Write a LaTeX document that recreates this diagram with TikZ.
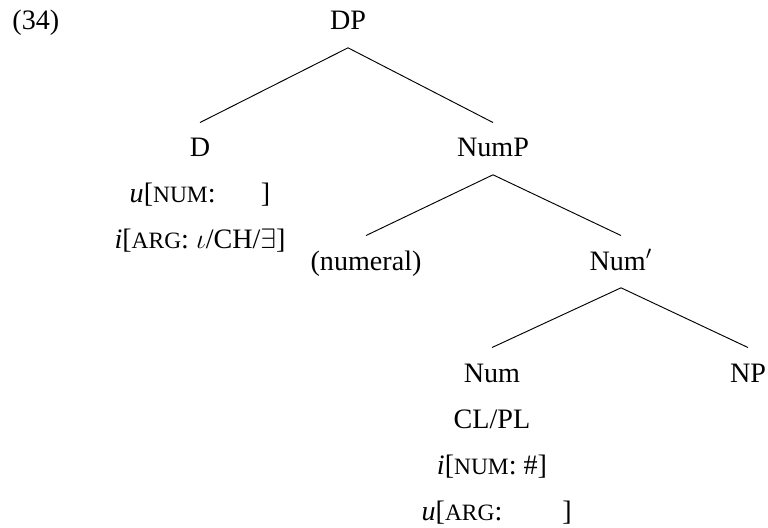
\documentclass[tikz,border=0pt]{standalone}
\usepackage{fontspec}
\setmainfont{Liberation Serif}
\usetikzlibrary{positioning}

\newcommand{\feat}[1]{{\fontsize{10}{11}\selectfont #1}}

\begin{document}
\begin{tikzpicture}[black, font=\fontsize{12}{14}\selectfont,
    cat/.style={anchor=base, inner sep=0pt, text height=0.51cm, text depth=0.26cm},
    featline/.style={anchor=base, inner sep=0pt}]
  \useasboundingbox (0,0) rectangle (11.52,7.905);
  \node[anchor=base west, inner sep=0pt] (ex) at (0.18,7.455) {(34)};
  \node[cat] (DP) at (5.22,7.455) {DP};
  \node[cat] (D) at (3.0,5.55) {D};
  \node[cat] (NumP) at (7.395,5.55) {NumP};
  \node[featline] (Dnum) at (3.0,4.86) {\textit{u}[\feat{NUM}:\hspace{0.68cm}]};
  \node[featline] (Darg) at (3.0,4.185) {\textit{i}[\feat{ARG}: $\iota$/CH/$\exists$]};
  \node[cat] (numeral) at (5.49,3.855) {(numeral)};
  \node[cat] (Numbar) at (9.315,3.855) {Num$'$};
  \node[cat] (Num) at (7.38,2.175) {Num};
  \node[cat] (NP) at (11.22,2.175) {NP};
  \node[featline] (Numcl) at (7.38,1.485) {CL/PL};
  \node[featline] (Numnum) at (7.38,0.795) {\textit{i}[\feat{NUM}: \#]};
  \node[featline] (Numarg) at (7.45,0.105) {\textit{u}[\feat{ARG}:\hspace{0.9cm}]};
  \draw (DP.south) -- (D.north);
  \draw (DP.south) -- (NumP.north);
  \draw (NumP.south) -- (numeral.north);
  \draw (NumP.south) -- (Numbar.north);
  \draw (Numbar.south) -- (Num.north);
  \draw (Numbar.south) -- (NP.north);
\end{tikzpicture}
\end{document}
